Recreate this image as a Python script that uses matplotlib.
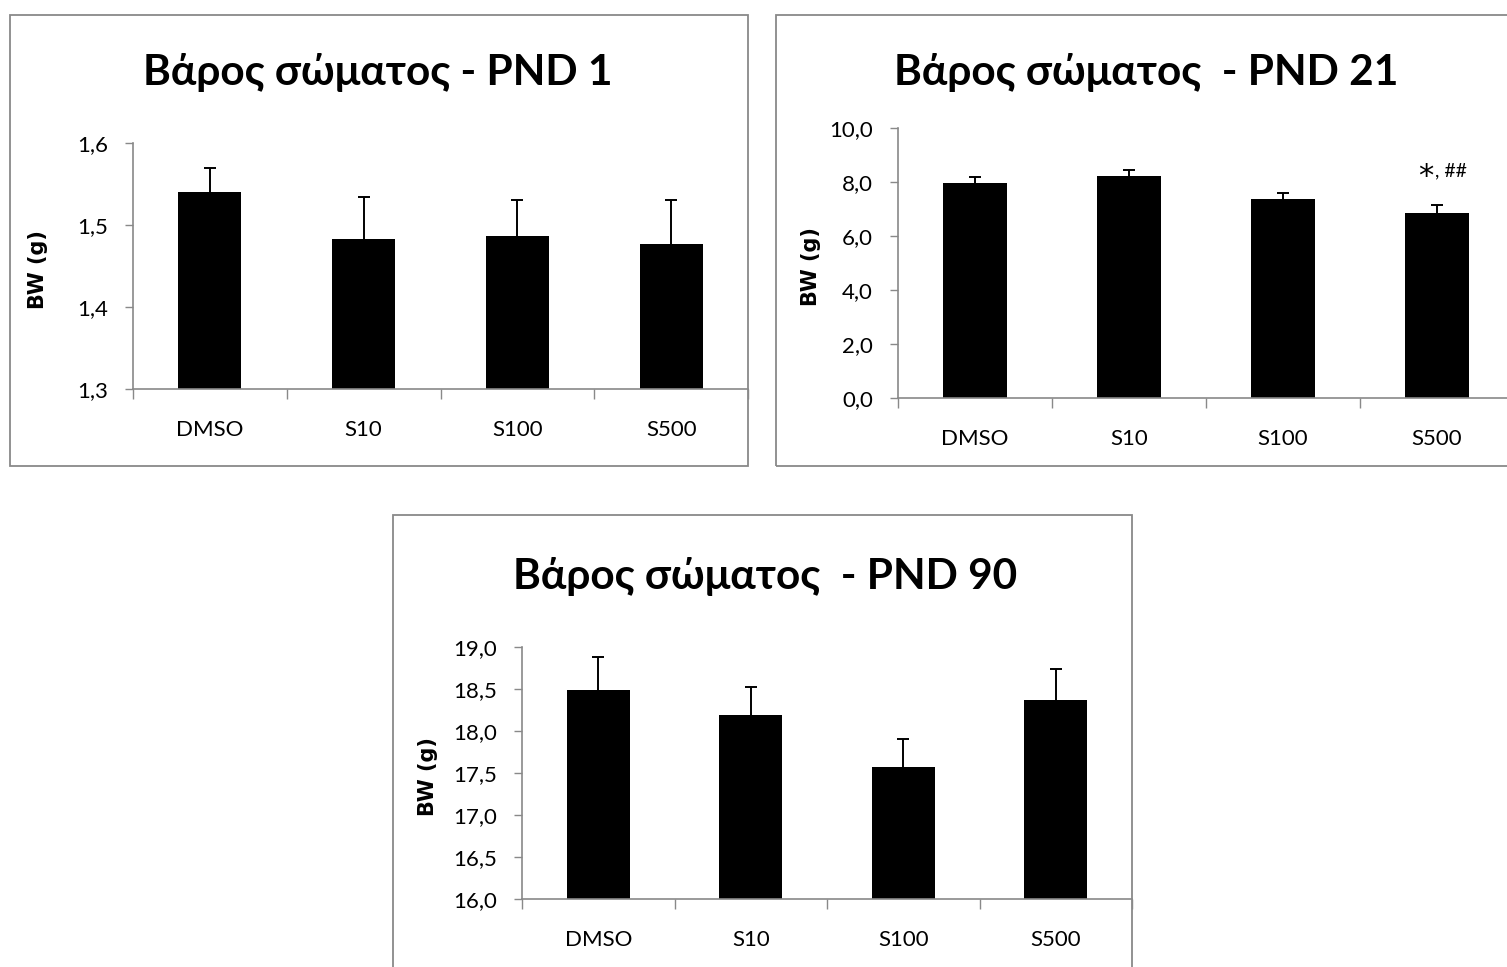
import matplotlib
matplotlib.use("Agg")
import matplotlib.pyplot as plt
from matplotlib.patches import Rectangle
from matplotlib.ticker import FuncFormatter, MultipleLocator

plt.rcParams['font.family'] = ['Lato', 'Noto Sans', 'DejaVu Sans']

# data
groups = ['DMSO', 'S10', 'S100', 'S500']

pnd1_mean = [1.540, 1.483, 1.487, 1.477]
pnd1_sem = [0.029, 0.051, 0.043, 0.053]

pnd21_mean = [7.95, 8.21, 7.36, 6.84]
pnd21_sem = [0.22, 0.22, 0.22, 0.32]

pnd90_mean = [18.49, 18.19, 17.57, 18.37]
pnd90_sem = [0.39, 0.33, 0.33, 0.37]

titles = ['Βάρος σώματος - PND 1', 'Βάρος σώματος  - PND 21', 'Βάρος σώματος  - PND 90']

W, H = 1507, 967
fig = plt.figure(figsize=(W / 100, H / 100), dpi=100)
GRAY = '#898989'


def px_rect(x0, y0, x1, y1):
    # pixel box (top-left origin) -> figure fraction [left, bottom, width, height]
    return [x0 / W, 1 - y1 / H, (x1 - x0) / W, (y1 - y0) / H]


def frame(x0, y0, x1, y1):
    l, b, w, h = px_rect(x0, y0, x1, y1)
    fig.patches.append(Rectangle((l, b), w, h, transform=fig.transFigure,
                                 fill=False, edgecolor=GRAY, linewidth=1.3))


def panel(axbox, means, sems, ylim, step, title, title_xy, ylabel_x):
    ax = fig.add_axes(px_rect(*axbox))
    x = range(len(groups))
    ax.bar(x, means, width=0.41, color='black', zorder=2)
    # only the upper half of the error bar shows above the bar
    ax.errorbar(x, means, yerr=sems, fmt='none',
                ecolor='black', elinewidth=1.4, capsize=4.5, capthick=1.4, zorder=1)
    ax.set_xlim(-0.5, len(groups) - 0.5)
    ax.set_ylim(*ylim)
    ax.yaxis.set_major_locator(MultipleLocator(step))
    ax.yaxis.set_major_formatter(FuncFormatter(lambda v, p: f'{v:.1f}'.replace('.', ',')))
    ax.set_xticks(list(x), groups)
    ax.set_xticks([i - 0.5 for i in range(len(groups) + 1)], minor=True)
    ax.tick_params(axis='x', which='major', length=0, pad=22, labelsize=16)
    ax.tick_params(axis='x', which='minor', length=7, color=GRAY, width=1)
    ax.tick_params(axis='y', length=6, color=GRAY, width=1, labelsize=16, pad=12)
    for s in ['top', 'right']:
        ax.spines[s].set_visible(False)
    for s in ['left', 'bottom']:
        ax.spines[s].set_color(GRAY)
        ax.spines[s].set_linewidth(1.2)
    ax.set_facecolor('none')
    # y label and title placed in pixel coordinates
    cy = (axbox[1] + axbox[3]) / 2 + 4
    fig.text(ylabel_x / W, 1 - cy / H, 'BW (g)', rotation=90, ha='center', va='center',
             fontsize=15, fontweight='bold', family='DejaVu Sans')
    fig.text(title_xy[0] / W, 1 - title_xy[1] / H, title, ha='center', va='center',
             fontsize=30.5, fontweight='bold')
    return ax


frame(10, 15, 748, 466)
frame(776, 15, 1530, 466)
frame(393, 515, 1132, 990)

panel((133, 143, 748, 389), pnd1_mean, pnd1_sem, (1.3, 1.6), 0.1,
      titles[0], (378, 72), 38)
ax2 = panel((898, 128, 1514, 398), pnd21_mean, pnd21_sem, (0, 10), 2,
            titles[1], (1146, 72), 811)
panel((522, 647, 1132, 899), pnd90_mean, pnd90_sem, (16, 19), 0.5,
      titles[2], (765, 577), 428)

# significance mark above S500 at PND 21
ax2.text(2.93, 7.9, '*', ha='center', va='baseline', fontsize=22, family='DejaVu Sans')
ax2.text(2.985, 8.19, ', ##', ha='left', va='baseline', fontsize=14)

fig.savefig('out.png', dpi=100, facecolor='white')
